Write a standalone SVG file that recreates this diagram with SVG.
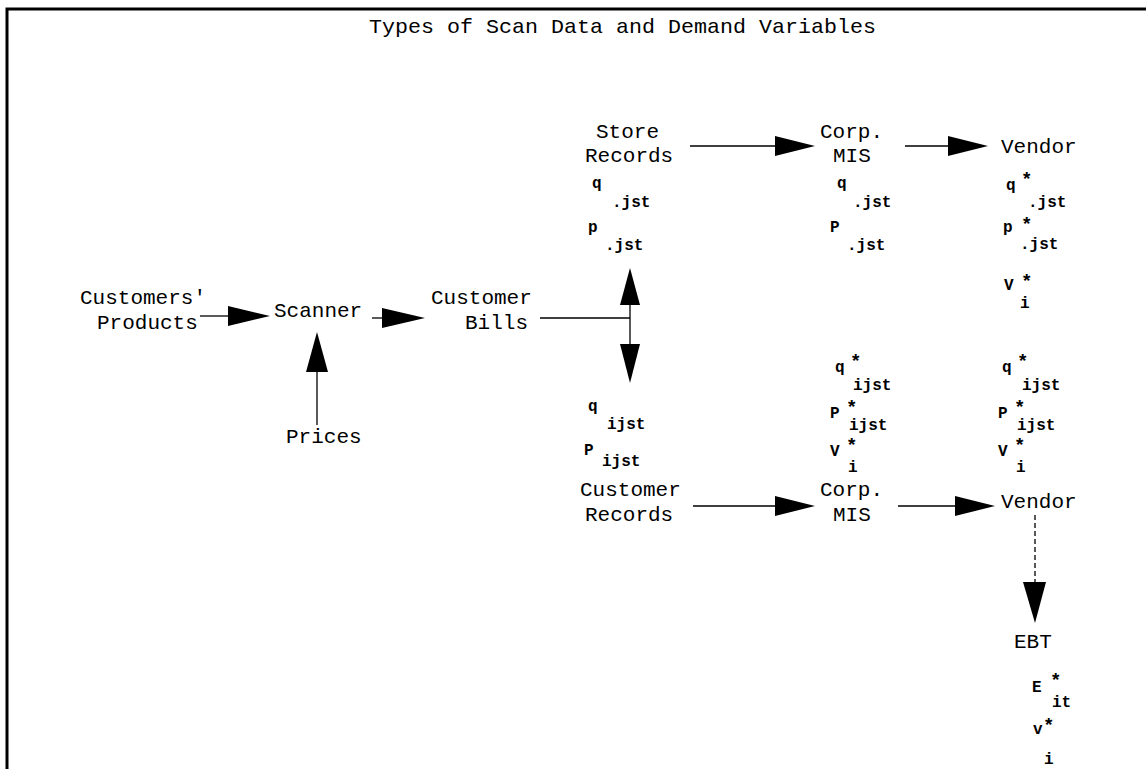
<svg xmlns="http://www.w3.org/2000/svg" width="1146" height="769" viewBox="0 0 1146 769">
  <style>
    .lbl { font-family: "Liberation Mono", "DejaVu Sans Mono", monospace; font-size: 21px; fill: #000; }
    .sym { font-family: "Liberation Mono", "DejaVu Sans Mono", monospace; font-size: 16px; font-weight: bold; fill: #000; }
    .star { font-family: "Liberation Mono", "DejaVu Sans Mono", monospace; font-size: 19px; font-weight: bold; fill: #000; }
    .ln { stroke: #000; stroke-width: 1.3; fill: none; }
    .dash { stroke: #000; stroke-width: 1.3; fill: none; stroke-dasharray: 5 3; }
    .head { fill: #000; stroke: none; }
  </style>
  <rect width="1146" height="769" fill="#fff"/>
  <!-- frame -->
  <path d="M7 769 V9 H1146" stroke="#000" stroke-width="3" fill="none"/>

  <text class="lbl" x="369" y="33" textLength="507" lengthAdjust="spacingAndGlyphs">Types of Scan Data and Demand Variables</text>

  <!-- connectors -->
  <g id="connectors">
    <!-- Customers' Products -> Scanner -->
    <line class="ln" x1="200" y1="316" x2="230" y2="316"/>
    <polygon class="head" points="228,306 270,316 228,326"/>
    <!-- Scanner -> Customer Bills -->
    <line class="ln" x1="372" y1="318" x2="384" y2="318"/>
    <polygon class="head" points="382,308 425,318 382,328"/>
    <!-- Prices -> Scanner -->
    <line class="ln" x1="317" y1="425" x2="317" y2="370"/>
    <polygon class="head" points="306,372 317,332 328,372"/>
    <!-- Customer Bills -> split -->
    <line class="ln" x1="540" y1="318" x2="630" y2="318"/>
    <line class="ln" x1="630" y1="303" x2="630" y2="346"/>
    <polygon class="head" points="620,305 630,268 640,305"/>
    <polygon class="head" points="620,344 630,383 640,344"/>
    <!-- Store Records -> Corp. MIS -> Vendor -->
    <line class="ln" x1="690" y1="146" x2="777" y2="146"/>
    <polygon class="head" points="775,136 815,146 775,156"/>
    <line class="ln" x1="905" y1="146" x2="950" y2="146"/>
    <polygon class="head" points="948,136 988,146 948,156"/>
    <!-- Customer Records -> Corp. MIS -> Vendor -->
    <line class="ln" x1="693" y1="506" x2="777" y2="506"/>
    <polygon class="head" points="775,496 815,506 775,516"/>
    <line class="ln" x1="898" y1="506" x2="957" y2="506"/>
    <polygon class="head" points="955,496 995,506 955,516"/>
    <!-- Vendor -> EBT -->
    <line class="dash" x1="1035" y1="515" x2="1035" y2="584"/>
    <polygon class="head" points="1023,582 1035,623 1046,582"/>
  </g>

  <g id="customers-products">
    <text class="lbl" x="80" y="304">Customers'</text>
    <text class="lbl" x="97" y="329">Products</text>
  </g>
  <g id="scanner">
    <text class="lbl" x="274" y="317">Scanner</text>
  </g>
  <g id="prices">
    <text class="lbl" x="286" y="443">Prices</text>
  </g>
  <g id="customer-bills">
    <text class="lbl" x="431" y="304">Customer</text>
    <text class="lbl" x="465" y="329">Bills</text>
  </g>

  <g id="store-records">
    <text class="lbl" x="596" y="138">Store</text>
    <text class="lbl" x="585" y="162">Records</text>
    <text class="sym" x="592" y="188">q</text>
    <text class="sym" x="612" y="207">.jst</text>
    <text class="sym" x="588" y="232">p</text>
    <text class="sym" x="605" y="250">.jst</text>
  </g>
  <g id="corp-mis-store">
    <text class="lbl" x="820" y="138">Corp.</text>
    <text class="lbl" x="833" y="162">MIS</text>
    <text class="sym" x="837" y="188">q</text>
    <text class="sym" x="853" y="207">.jst</text>
    <text class="sym" x="830" y="232">P</text>
    <text class="sym" x="847" y="250">.jst</text>
  </g>
  <g id="vendor-store">
    <text class="lbl" x="1001" y="153">Vendor</text>
    <text class="sym" x="1006" y="190">q</text>
    <text class="star" x="1021" y="185">*</text>
    <text class="sym" x="1028" y="207">.jst</text>
    <text class="sym" x="1003" y="232">p</text>
    <text class="star" x="1021" y="230">*</text>
    <text class="sym" x="1020" y="249">.jst</text>
    <text class="sym" x="1004" y="290">V</text>
    <text class="star" x="1021" y="287">*</text>
    <text class="sym" x="1020" y="308">i</text>
  </g>

  <g id="customer-records">
    <text class="sym" x="588" y="411">q</text>
    <text class="sym" x="607" y="429">ijst</text>
    <text class="sym" x="584" y="455">P</text>
    <text class="sym" x="602" y="466">ijst</text>
    <text class="lbl" x="580" y="496">Customer</text>
    <text class="lbl" x="585" y="521">Records</text>
  </g>
  <g id="corp-mis-customer">
    <text class="sym" x="835" y="372">q</text>
    <text class="star" x="850" y="367">*</text>
    <text class="sym" x="853" y="390">ijst</text>
    <text class="sym" x="830" y="418">P</text>
    <text class="star" x="846" y="413">*</text>
    <text class="sym" x="849" y="430">ijst</text>
    <text class="sym" x="830" y="456">V</text>
    <text class="star" x="846" y="451">*</text>
    <text class="sym" x="848" y="472">i</text>
    <text class="lbl" x="820" y="496">Corp.</text>
    <text class="lbl" x="833" y="521">MIS</text>
  </g>
  <g id="vendor-customer">
    <text class="sym" x="1002" y="372">q</text>
    <text class="star" x="1017" y="367">*</text>
    <text class="sym" x="1022" y="390">ijst</text>
    <text class="sym" x="998" y="418">P</text>
    <text class="star" x="1014" y="413">*</text>
    <text class="sym" x="1017" y="430">ijst</text>
    <text class="sym" x="998" y="456">V</text>
    <text class="star" x="1014" y="451">*</text>
    <text class="sym" x="1016" y="472">i</text>
    <text class="lbl" x="1001" y="508">Vendor</text>
  </g>
  <g id="ebt">
    <text class="lbl" x="1014" y="648">EBT</text>
    <text class="sym" x="1032" y="692">E</text>
    <text class="star" x="1050" y="686">*</text>
    <text class="sym" x="1052" y="707">it</text>
    <text class="sym" x="1033" y="734">v</text>
    <text class="star" x="1043" y="731">*</text>
    <text class="sym" x="1044" y="764">i</text>
  </g>
</svg>
